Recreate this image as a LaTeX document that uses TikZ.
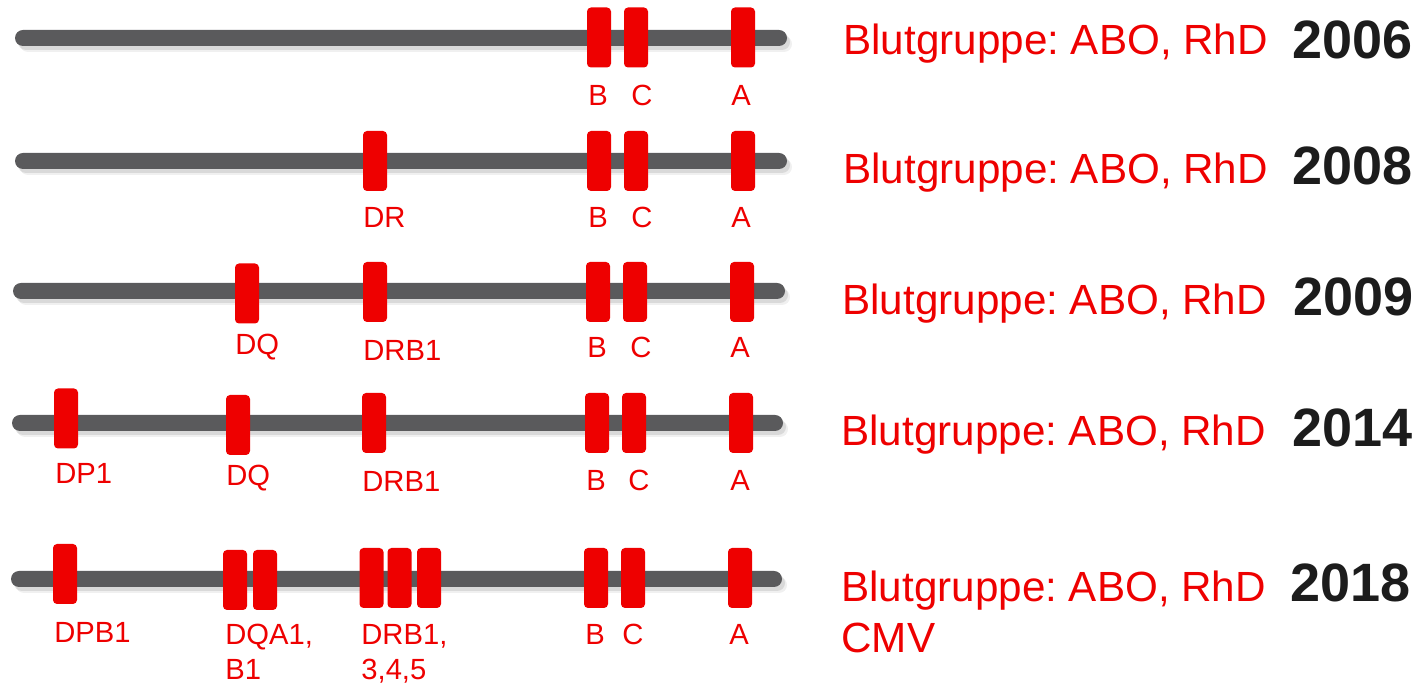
\documentclass[tikz,border=0pt]{standalone}
\usepackage{fontspec}
\setmainfont{Liberation Sans}
\usetikzlibrary{shadows}
\definecolor{hlared}{RGB}{238,0,0}
\definecolor{bargray}{RGB}{90,90,92}
\definecolor{yearblack}{RGB}{28,28,28}
\frenchspacing

\begin{document}
\begin{tikzpicture}[x=0.5pt,y=-0.5pt,
  chromosome/.style={fill=bargray,rounded corners=4pt,
    drop shadow={shadow xshift=2.5pt,shadow yshift=-3pt,opacity=0.12},
    drop shadow={shadow xshift=1.5pt,shadow yshift=-2pt,opacity=0.2}},
  locus/.style={draw=none,fill=hlared,rounded corners=2pt,minimum width=12pt,minimum height=30pt,inner sep=0pt},
  gene/.style={text=hlared,font=\fontsize{14.6}{17.5}\selectfont,anchor=base west,inner sep=0pt},
  group/.style={text=hlared,font=\fontsize{21.1}{25.5}\selectfont,anchor=base west,inner sep=0pt},
  year/.style={text=yearblack,font=\fontsize{27}{32}\selectfont\bfseries,anchor=base west,inner sep=0pt}]
  \useasboundingbox (0,0) rectangle (1420,688);

  % chromosomes
  \path[chromosome] (15,30) rectangle (787,46);
  \path[chromosome] (15,153) rectangle (787,169);
  \path[chromosome] (13,283) rectangle (785,299);
  \path[chromosome] (12,415) rectangle (783,431);
  \path[chromosome] (11,571) rectangle (782,587);

  % 2006
  \node[locus] (b1) at (599,37.5){};
  \node[locus] (c1) at (636,37.5){};
  \node[locus] (a1) at (743,37.5){};
  \node[gene] (lb1) at (588,106){B};
  \node[gene] (lc1) at (631,106){C};
  \node[gene] (la1) at (731,106){A};
  \node[group] (g1) at (843,55){Blutgruppe: ABO, RhD};
  \node[year] (y1) at (1292,59){2006};

  % 2008
  \node[locus] (dr2) at (375,161){};
  \node[locus] (b2) at (599,161){};
  \node[locus] (c2) at (636,161){};
  \node[locus] (a2) at (743,161){};
  \node[gene] (ldr2) at (363,228){DR};
  \node[gene] (lb2) at (588,228){B};
  \node[gene] (lc2) at (631,228){C};
  \node[gene] (la2) at (731,228){A};
  \node[group] (g2) at (843,184){Blutgruppe: ABO, RhD};
  \node[year] (y2) at (1292,185){2008};

  % 2009
  \node[locus] (dq3) at (247,293.5){};
  \node[locus] (drb3) at (375,292){};
  \node[locus] (b3) at (598,292){};
  \node[locus] (c3) at (635,292){};
  \node[locus] (a3) at (742,292){};
  \node[gene] (ldq3) at (235,355){DQ};
  \node[gene] (ldrb3) at (363,361){DRB1};
  \node[gene] (lb3) at (587,358){B};
  \node[gene] (lc3) at (630,358){C};
  \node[gene] (la3) at (730,358){A};
  \node[group] (g3) at (842,315){Blutgruppe: ABO, RhD};
  \node[year] (y3) at (1293,316){2009};

  % 2014
  \node[locus] (dp4) at (66,418.5){};
  \node[locus] (dq4) at (238,425){};
  \node[locus] (drb4) at (374,423){};
  \node[locus] (b4) at (597,423){};
  \node[locus] (c4) at (634,423){};
  \node[locus] (a4) at (741,423){};
  \node[gene] (ldp4) at (55,484){DP1};
  \node[gene] (ldq4) at (226,486){DQ};
  \node[gene] (ldrb4) at (362,492){DRB1};
  \node[gene] (lb4) at (586,491){B};
  \node[gene] (lc4) at (628,491){C};
  \node[gene] (la4) at (730,491){A};
  \node[group] (g4) at (841,446){Blutgruppe: ABO, RhD};
  \node[year] (y4) at (1292,447){2014};

  % 2018
  \node[locus] (dpb5) at (65,574){};
  \node[locus] (dqa5) at (235,580){};
  \node[locus] (dqb5) at (265,580){};
  \node[locus] (drb5) at (371.5,578){};
  \node[locus] (drbb5) at (399.5,578){};
  \node[locus] (drbc5) at (429,578){};
  \node[locus] (b5) at (596,578){};
  \node[locus] (c5) at (633,578){};
  \node[locus] (a5) at (740,578){};
  \node[gene] (ldpb5) at (54,643){DPB1};
  \node[gene] (ldqa5) at (225,645){DQA1,};
  \node[gene] (ldqb5) at (225,680){B1};
  \node[gene] (ldrb5) at (361,645){DRB1,};
  \node[gene] (ldrbb5) at (361,680){3,4,5};
  \node[gene] (lb5) at (585,645){B};
  \node[gene] (lc5) at (622,645){C};
  \node[gene] (la5) at (729,645){A};
  \node[group] (g5) at (841,602){Blutgruppe: ABO, RhD};
  \node[group] (cmv5) at (841,653){CMV};
  \node[year] (y5) at (1290,602){2018};
\end{tikzpicture}
\end{document}
